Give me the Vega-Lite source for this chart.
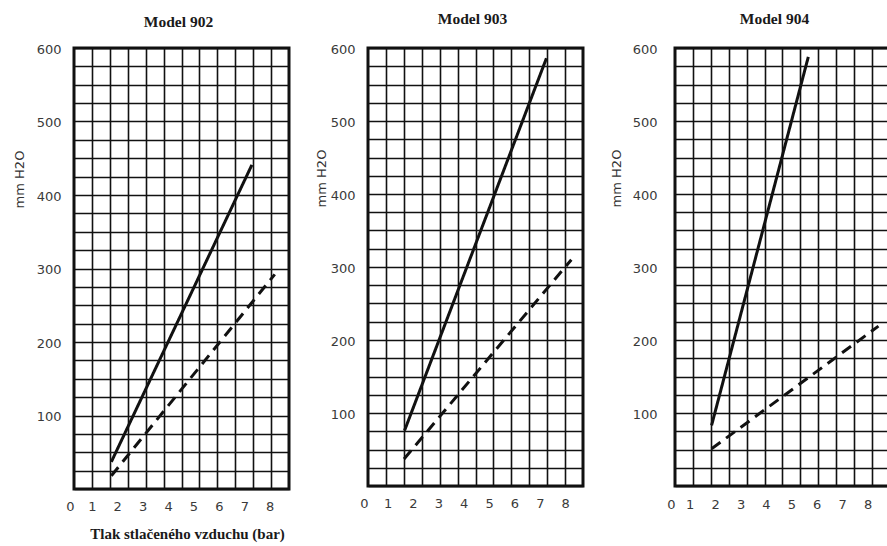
{
  "$schema": "https://vega.github.io/schema/vega-lite/v6.json",
  "background": "white",
  "padding": {"left": 11, "top": 10, "right": 0, "bottom": 0},
  "config": {
    "view": {"stroke": "#111111", "strokeWidth": 3},
    "axis": {
      "gridColor": "#111111", "gridWidth": 1.6, "gridOpacity": 1,
      "ticks": false, "domain": false,
      "labelFont": "DejaVu Sans", "labelFontSize": 13, "labelColor": "#3a3a3a",
      "labelOverlap": false, "labelFlush": false,
      "titleFont": "DejaVu Sans", "titleFontSize": 13, "titleFontWeight": "normal", "titleColor": "#333333"
    },
    "title": {"font": "Liberation Serif", "fontSize": 15.5, "fontWeight": "bold", "color": "#1a1a1a", "anchor": "middle", "frame": "group"},
    "line": {"color": "#111111", "strokeWidth": 3, "strokeCap": "butt"}
  },
  "datasets": {
    "krivky": [
      {"model": "902", "krivka": "A", "tlak": 1.77, "mm": 37},
      {"model": "902", "krivka": "A", "tlak": 7.30, "mm": 441},
      {"model": "902", "krivka": "B", "tlak": 1.77, "mm": 18},
      {"model": "902", "krivka": "B", "tlak": 8.20, "mm": 292},
      {"model": "903", "krivka": "A", "tlak": 1.67, "mm": 76},
      {"model": "903", "krivka": "A", "tlak": 7.26, "mm": 586},
      {"model": "903", "krivka": "B", "tlak": 1.65, "mm": 37},
      {"model": "903", "krivka": "B", "tlak": 8.24, "mm": 310},
      {"model": "904", "krivka": "A", "tlak": 1.86, "mm": 83},
      {"model": "904", "krivka": "A", "tlak": 5.67, "mm": 588},
      {"model": "904", "krivka": "B", "tlak": 1.86, "mm": 51},
      {"model": "904", "krivka": "B", "tlak": 8.43, "mm": 219}
    ]
  },
  "data": {"name": "krivky"},
  "spacing": 22,
  "hconcat": [
    {
      "title": {"text": "Model 902", "offset": 13, "dx": -3},
      "width": 215, "height": 441,
      "transform": [{"filter": "datum.model == '902'"}],
      "layer": [
        {
          "mark": {"type": "line"},
          "encoding": {
            "x": {"field": "tlak", "type": "quantitative", "scale": {"domain": [0.30, 8.76], "nice": false, "zero": false},
                  "axis": {"values": [1.005, 1.71, 2.415, 3.12, 3.825, 4.53, 5.235, 5.94, 6.645, 7.35, 8.055], "grid": true, "labels": false, "title": null}},
            "y": {"field": "mm", "type": "quantitative", "scale": {"domain": [0, 600], "nice": false},
                  "axis": {"values": [0, 25, 50, 75, 100, 125, 150, 175, 200, 225, 250, 275, 300, 325, 350, 375, 400, 425, 450, 475, 500, 525, 550, 575, 600],
                           "grid": true, "labelExpr": "datum.value % 100 == 0 && datum.value > 0 ? datum.label : ''",
                           "labelPadding": 13, "labelOffset": 1,
                           "title": "mm H2O", "titleX": -55, "titleY": 131, "titleAlign": "center", "titleBaseline": "middle", "titleAngle": -90}},
            "strokeDash": {"field": "krivka", "type": "nominal", "scale": {"domain": ["A", "B"], "range": [[1, 0], [11, 7]]}, "legend": null}
          }
        },
        {
          "mark": {"type": "line", "opacity": 0},
          "encoding": {
            "x": {"field": "tlak", "type": "quantitative", "scale": {"domain": [0.30, 8.76], "nice": false, "zero": false},
                  "axis": {"orient": "bottom", "values": [0.30, 1, 2, 3, 4, 5, 6, 7, 8], "grid": false,
                           "labelExpr": "'' + round(datum.value)", "labelPadding": 11,
                           "labelAlign": {"condition": {"test": "datum.value < 0.5", "value": "right"}, "value": "center"},
                           "title": "Tlak stlačeného vzduchu (bar)", "titleFont": "Liberation Serif", "titleFontWeight": "bold", "titleFontSize": 15, "titleColor": "#1a1a1a", "titlePadding": 13, "titleX": 113, "titleAlign": "center"}},
            "detail": {"field": "krivka", "type": "nominal"}
          }
        }
      ],
      "resolve": {"axis": {"x": "independent"}}
    },
    {
      "spacing": 92,
      "bounds": "flush",
      "hconcat": [
        {
          "title": {"text": "Model 903", "offset": 16, "dx": -3},
          "width": 215, "height": 438,
          "transform": [{"filter": "datum.model == '903'"}],
          "layer": [
            {
              "mark": {"type": "line"},
              "encoding": {
                "x": {"field": "tlak", "type": "quantitative", "scale": {"domain": [0.23, 8.70], "nice": false, "zero": false},
                      "axis": {"values": [0.936, 1.642, 2.348, 3.053, 3.759, 4.465, 5.171, 5.877, 6.583, 7.288, 7.994], "grid": true, "labels": false, "title": null}},
                "y": {"field": "mm", "type": "quantitative", "scale": {"domain": [0, 600], "nice": false},
                      "axis": {"values": [0, 25, 50, 75, 100, 125, 150, 175, 200, 225, 250, 275, 300, 325, 350, 375, 400, 425, 450, 475, 500, 525, 550, 575, 600],
                               "grid": true, "labelExpr": "datum.value % 100 == 0 && datum.value > 0 ? datum.label : ''",
                               "labelPadding": 13, "labelOffset": 1,
                               "title": "mm H2O", "titleX": -47, "titleY": 130, "titleAlign": "center", "titleBaseline": "middle", "titleAngle": -90}},
                "strokeDash": {"field": "krivka", "type": "nominal", "scale": {"domain": ["A", "B"], "range": [[1, 0], [11, 7]]}, "legend": null}
              }
            },
            {
              "mark": {"type": "line", "opacity": 0},
              "encoding": {
                "x": {"field": "tlak", "type": "quantitative", "scale": {"domain": [0.23, 8.70], "nice": false, "zero": false},
                      "axis": {"orient": "bottom", "values": [0.23, 1, 2, 3, 4, 5, 6, 7, 8], "grid": false,
                               "labelExpr": "'' + round(datum.value)", "labelPadding": 11,
                               "labelAlign": {"condition": {"test": "datum.value < 0.5", "value": "right"}, "value": "center"},
                               "title": null}},
                "detail": {"field": "krivka", "type": "nominal"}
              }
            }
          ],
          "resolve": {"axis": {"x": "independent"}}
        },
        {
          "title": {"text": "Model 904", "offset": 16, "dx": -8},
          "width": 215, "height": 438,
          "transform": [{"filter": "datum.model == '904'"}],
          "layer": [
            {
              "mark": {"type": "line"},
              "encoding": {
                "x": {"field": "tlak", "type": "quantitative", "scale": {"domain": [0.42, 8.885], "nice": false, "zero": false},
                      "axis": {"values": [1.125, 1.831, 2.536, 3.242, 3.947, 4.652, 5.358, 6.063, 6.769, 7.474, 8.18], "grid": true, "labels": false, "title": null}},
                "y": {"field": "mm", "type": "quantitative", "scale": {"domain": [0, 600], "nice": false},
                      "axis": {"values": [0, 25, 50, 75, 100, 125, 150, 175, 200, 225, 250, 275, 300, 325, 350, 375, 400, 425, 450, 475, 500, 525, 550, 575, 600],
                               "grid": true, "labelExpr": "datum.value % 100 == 0 && datum.value > 0 ? datum.label : ''",
                               "labelPadding": 18, "labelOffset": 1,
                               "title": "mm H2O", "titleX": -59, "titleY": 130, "titleAlign": "center", "titleBaseline": "middle", "titleAngle": -90}},
                "strokeDash": {"field": "krivka", "type": "nominal", "scale": {"domain": ["A", "B"], "range": [[1, 0], [14, 7]]}, "legend": null}
              }
            },
            {
              "mark": {"type": "line", "opacity": 0},
              "encoding": {
                "x": {"field": "tlak", "type": "quantitative", "scale": {"domain": [0.42, 8.885], "nice": false, "zero": false},
                      "axis": {"orient": "bottom", "values": [0.42, 1, 2, 3, 4, 5, 6, 7, 8], "grid": false,
                               "labelExpr": "'' + round(datum.value)", "labelPadding": 12,
                               "labelAlign": {"condition": {"test": "datum.value < 0.5", "value": "right"}, "value": "center"},
                               "title": null}},
                "detail": {"field": "krivka", "type": "nominal"}
              }
            }
          ],
          "resolve": {"axis": {"x": "independent"}}
        }
      ]
    }
  ]
}
